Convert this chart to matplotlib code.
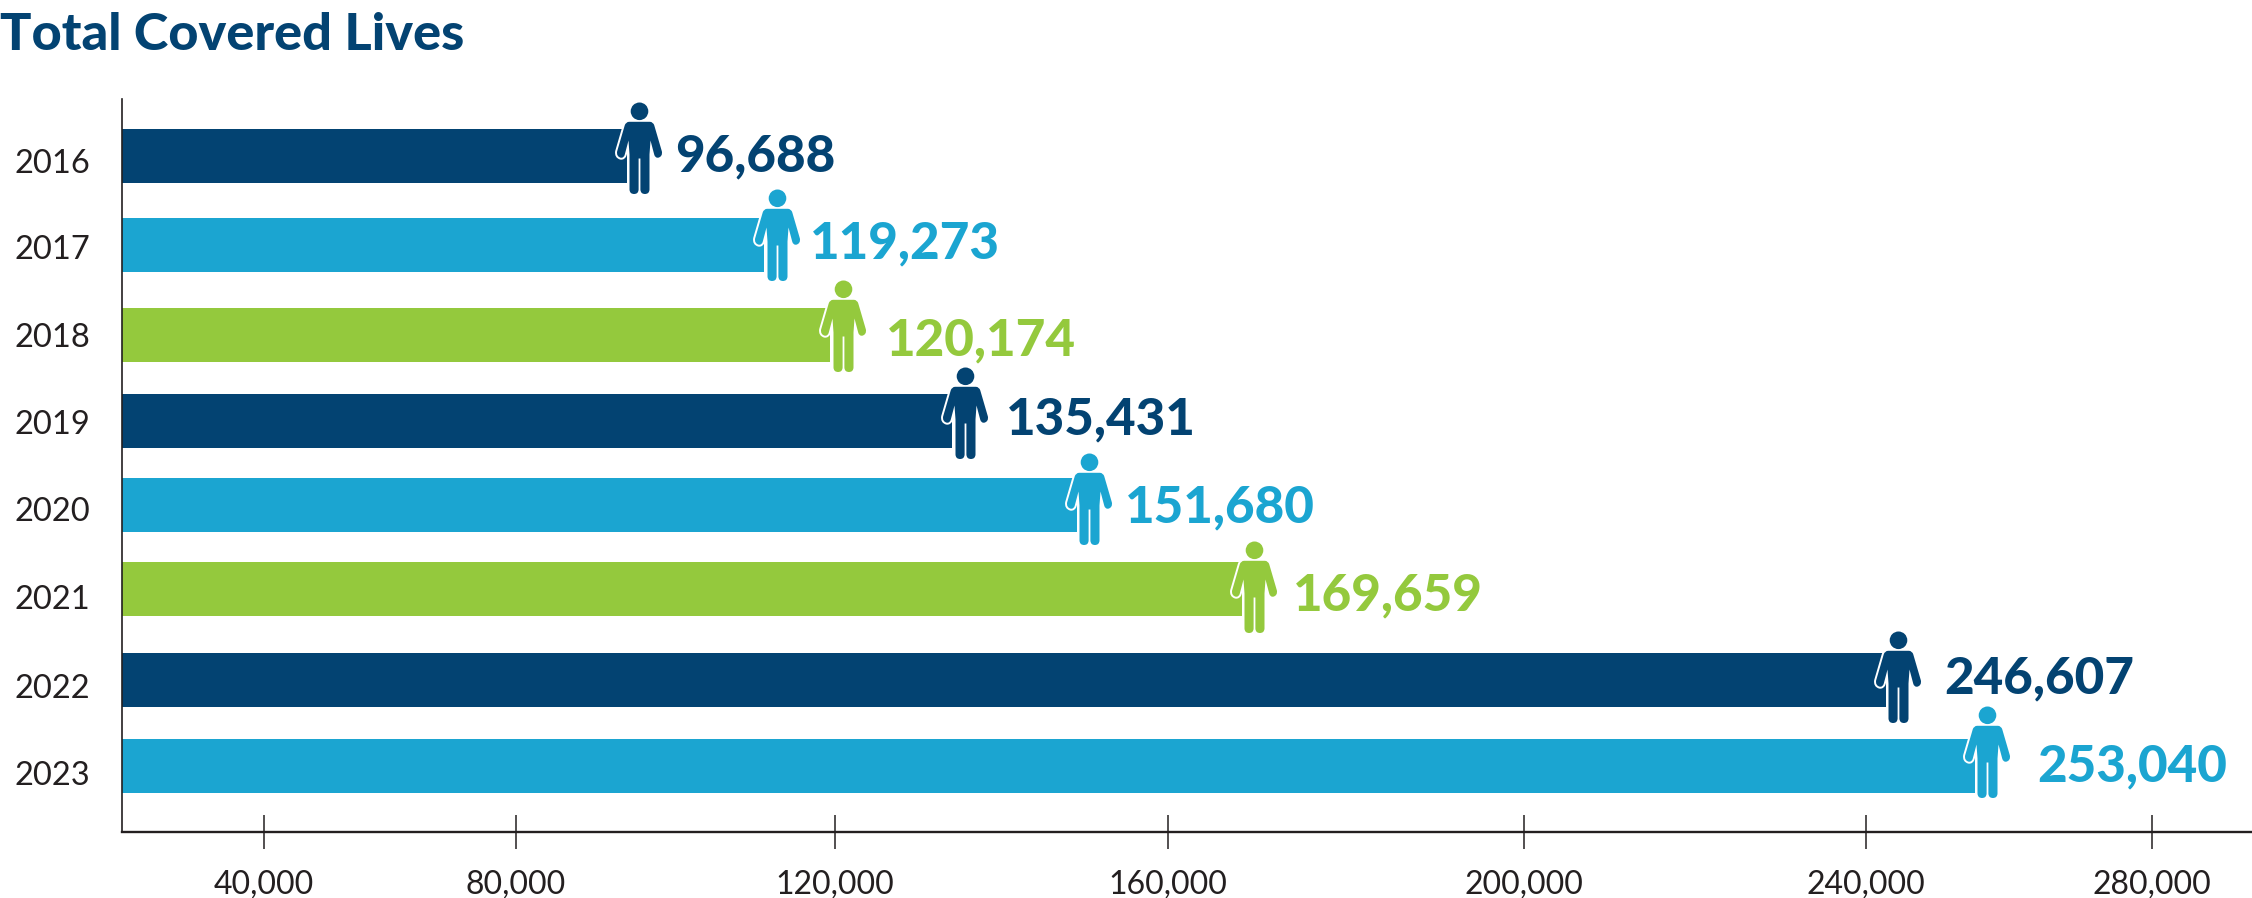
import numpy as np
import matplotlib
matplotlib.use("Agg")
import matplotlib.pyplot as plt
from matplotlib.path import Path
from matplotlib.scale import FuncScale
from matplotlib.transforms import ScaledTranslation

# ===================== data =====================
years = ["2016", "2017", "2018", "2019", "2020", "2021", "2022", "2023"]
value_labels = ["96,688", "119,273", "120,174", "135,431",
                "151,680", "169,659", "246,607", "253,040"]
# where the bars actually end
bar_ends = [93970, 111160, 119440, 134110, 149110, 168340, 242800, 255270]
tick_values = [40000, 80000, 120000, 160000, 200000, 240000, 280000]

# ===================== layout (pixels of the 2252x898 picture) =====================
NAVY = "#034372"
BLUE = "#1ba5d1"
GREEN = "#94c93d"
INK = "#231f20"
bar_colors = [NAVY, BLUE, GREEN, NAVY, BLUE, GREEN, NAVY, BLUE]

row_y = [156, 245, 335, 421, 505, 589, 680, 766]
year_y = [161, 247, 335, 422.5, 509.5, 597.5, 686, 773]
icon_top = [102, 189, 280, 367, 453, 541, 631, 706]
label_baseline = [171, 258, 355, 434, 522, 610, 693, 781]
label_gap = [48, 46, 56, 54, 48, 51, 58, 62]

# the tick spacing in the picture is uneven, so the x axis is piecewise
axis_values = [17540, 40000, 80000, 120000, 160000, 200000, 240000, 280000, 294080]
axis_pixels = [122, 263.5, 515.6, 834.5, 1167.7, 1524, 1866, 2151.5, 2252]


def to_px(v):
    return np.interp(v, axis_values, axis_pixels)


def from_px(p):
    return np.interp(p, axis_pixels, axis_values)


def person_marker():
    # right half of the figure, y pointing down from the top of the head
    M, L, C = Path.MOVETO, Path.LINETO, Path.CURVE3
    half = [(0, 19.3, L), (10.5, 19.3, L), (13.8, 19.5, C), (14.8, 23, C),
            (22.4, 49, L), (23.2, 54, C), (18.8, 55.2, C), (15.6, 55.6, C), (14.7, 52, C),
            (11, 38, L), (10, 52, L), (10, 87, L), (9.8, 91.5, C), (5.4, 91.5, C),
            (1.1, 91.5, C), (0.9, 87, C), (0.9, 56, L), (0, 56, L)]
    pts = [(x, y) for x, y, _ in half]
    codes = [c for _, _, c in half]
    # mirror for the left half, walking back up
    pts_l = [(-x, y) for x, y in pts[-2::-1]]
    codes_l = codes[-1:0:-1]
    verts = [(0, 19.3)] + pts[1:] + pts_l
    cc = [M] + codes[1:] + codes_l
    verts = [(x, 46 - y) for x, y in verts]
    verts.append(verts[0])
    cc.append(Path.CLOSEPOLY)
    body = Path(verts, cc)
    head = Path.circle((0, 46 - 8.8), 8.8)
    return Path.make_compound_path(body, head)


# ===================== plot =====================
plt.rcParams["font.family"] = ["Lato", "DejaVu Sans"]

fig = plt.figure(figsize=(22.52, 8.98), dpi=100)
ax = fig.add_axes([122 / 2252, 1 - 832 / 898, 1 - 122 / 2252, (832 - 99) / 898])
ax.set_xscale(FuncScale(ax.xaxis, (to_px, from_px)))
ax.set_xlim(axis_values[0], axis_values[-1])
ax.set_ylim(832, 99)

ax.barh(row_y, [e - axis_values[0] for e in bar_ends], left=axis_values[0],
        height=54, color=bar_colors, zorder=2)

icon = person_marker()
icon_shift = ax.transData + ScaledTranslation(12.5 / 100, 0, fig.dpi_scale_trans)
for i, end in enumerate(bar_ends):
    # white halo first, then the figure on top so the halo does not thin it
    ax.plot([end], [icon_top[i] + 46], marker=icon, ms=92 * 0.72, mfc="white",
            mec="white", mew=2.8, ls="none", transform=icon_shift, clip_on=False, zorder=3)
    ax.plot([end], [icon_top[i] + 46], marker=icon, ms=92 * 0.72, mfc=bar_colors[i],
            mew=0, ls="none", transform=icon_shift, clip_on=False, zorder=3.5)
    ax.annotate(value_labels[i], xy=(end, label_baseline[i]), xytext=(label_gap[i], 0),
                textcoords="offset pixels", color=bar_colors[i], fontsize=36.8,
                fontweight=900, ha="left", va="baseline", zorder=4)

# axes
for side in ["top", "right"]:
    ax.spines[side].set_visible(False)
ax.spines["left"].set_linewidth(1.2)
ax.spines["left"].set_color(INK)
ax.spines["bottom"].set_linewidth(1.7)
ax.spines["bottom"].set_color(INK)

ax.set_xticks(tick_values)
ax.set_xticklabels([f"{v:,}" for v in tick_values])
ax.tick_params(axis="x", direction="inout", length=24.5, width=1.1, color=INK,
               labelcolor=INK, labelsize=23, pad=14.5)
ax.set_yticks(year_y)
ax.set_yticklabels(years)
ax.tick_params(axis="y", length=0, labelcolor=INK, labelsize=23.5, pad=23)

fig.text(0, 1 - 50 / 898, "Total Covered Lives", color=NAVY, fontsize=37.6,
         fontweight=900, ha="left", va="baseline")

fig.savefig("out.png", dpi=100, facecolor="white")
